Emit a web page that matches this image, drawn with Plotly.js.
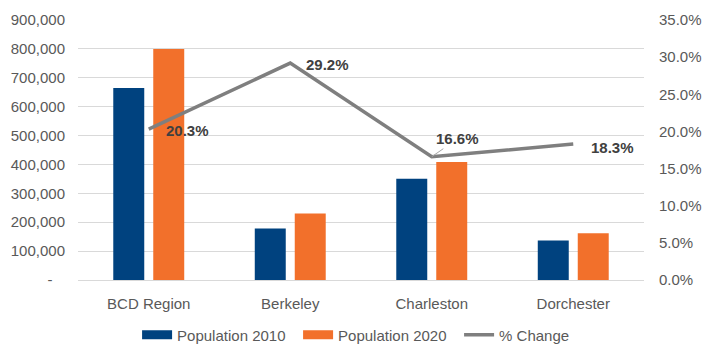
<!DOCTYPE html>
<html>
<head>
<meta charset="utf-8">
<script src="https://cdn.plot.ly/plotly-3.0.1.min.js"></script>
<style>
  html, body { margin: 0; padding: 0; background: #fff; }
  #chart { width: 703px; height: 344px; }
</style>
</head>
<body>
<div id="chart"></div>
<script>
// Population by area, 2010 vs 2020, with percent change
const categories = ["BCD Region", "Berkeley", "Charleston", "Dorchester"];
const pop2010 = [664607, 177843, 350209, 136555];
const pop2020 = [799636, 229861, 408235, 161540];
const pctChange = [20.3, 29.2, 16.6, 18.3];

// accounting-style zero: dash padded (in background colour) to sit left of the digit column
const ZERO_LABEL = "<span style=\"color:#595959\">-</span><span style=\"color:#ffffff\">0,</span>";
const leftTickVals = [0, 100000, 200000, 300000, 400000, 500000, 600000, 700000, 800000, 900000];
const leftTickText = [ZERO_LABEL, "100,000", "200,000", "300,000", "400,000", "500,000", "600,000", "700,000", "800,000", "900,000"];
const rightTickVals = [0, 5, 10, 15, 20, 25, 30, 35];
const rightTickText = ["0.0%", "5.0%", "10.0%", "15.0%", "20.0%", "25.0%", "30.0%", "35.0%"];

const BLUE = "#00427f";
const ORANGE = "#f2702b";
const GRAY = "#7f7f7f";
const TICK = "#595959";
const LABEL = "#404040";

const traces = [
  { type: "bar", x: categories, y: pop2010, name: "Population 2010",
    marker: { color: BLUE }, showlegend: false, hoverinfo: "x+y" },
  { type: "bar", x: categories, y: pop2020, name: "Population 2020",
    marker: { color: ORANGE }, showlegend: false, hoverinfo: "x+y" },
  { type: "scatter", mode: "lines", x: categories, y: pctChange, yaxis: "y2",
    name: "% Change", line: { color: GRAY, width: 3.5 }, showlegend: false },
  // legend keys drawn as wide swatches
  { type: "scatter", mode: "lines", x: [null], y: [null], name: "Population 2010",
    line: { color: BLUE, width: 9 }, hoverinfo: "skip" },
  { type: "scatter", mode: "lines", x: [null], y: [null], name: "Population 2020",
    line: { color: ORANGE, width: 9 }, hoverinfo: "skip" },
  { type: "scatter", mode: "lines", x: [null], y: [null], name: "% Change",
    line: { color: GRAY, width: 3.5 }, hoverinfo: "skip" }
];

// label placement for each % value (pixel offsets from its point)
const labelOffsets = [
  { xshift: 15, yshift: -1, arrow: false },
  { xshift: 14, yshift: -1, arrow: false },
  { ax: 26, ay: -18, arrow: true },
  { xshift: 16, yshift: -3, arrow: false }
];

const annotations = pctChange.map((v, i) => {
  const o = labelOffsets[i];
  const a = {
    x: categories[i], y: v, xref: "x", yref: "y2",
    text: v.toFixed(1) + "%",
    font: { family: "Liberation Sans, Arial, sans-serif", size: 15, color: LABEL, weight: "bold" }
  };
  if (o.arrow) {
    Object.assign(a, { showarrow: true, arrowhead: 0, arrowwidth: 1, arrowcolor: "#a6a6a6",
      ax: o.ax, ay: o.ay, standoff: 0 });
  } else {
    Object.assign(a, { showarrow: false, xanchor: "left", yanchor: "middle",
      xshift: o.xshift, yshift: o.yshift });
  }
  return a;
});

const layout = {
  width: 703, height: 344,
  margin: { l: 78, r: 59, t: 20, b: 64 },
  paper_bgcolor: "#ffffff", plot_bgcolor: "#ffffff",
  font: { family: "Liberation Sans, Arial, sans-serif", color: TICK },
  barmode: "group", bargap: 0.435, bargroupgap: 0.225,
  showlegend: true,
  legend: {
    orientation: "h", x: 0.195, xref: "container", xanchor: "left",
    y: 0.026, yref: "container", yanchor: "middle",
    font: { size: 15, color: TICK }, itemwidth: 30, entrywidth: 116,
    traceorder: "normal"
  },
  xaxis: {
    showgrid: false, showline: false, zeroline: false,
    tickfont: { size: 15, color: TICK }, ticks: "", ticklabelstandoff: 13
  },
  yaxis: {
    range: [0, 900000], tickvals: leftTickVals, ticktext: leftTickText,
    tickfont: { size: 15, color: TICK }, gridcolor: "#d9d9d9", gridwidth: 1,
    zeroline: true, zerolinecolor: "#d9d9d9", zerolinewidth: 1,
    ticks: "", ticklabelstandoff: 12, fixedrange: true
  },
  yaxis2: {
    range: [0, 35], tickvals: rightTickVals, ticktext: rightTickText,
    overlaying: "y", side: "right", showgrid: false, zeroline: false,
    tickfont: { size: 15, color: TICK }, ticks: "", ticklabelstandoff: 14
  },
  annotations: annotations
};

Plotly.newPlot("chart", traces, layout, { displayModeBar: false, staticPlot: true });
</script>
</body>
</html>
